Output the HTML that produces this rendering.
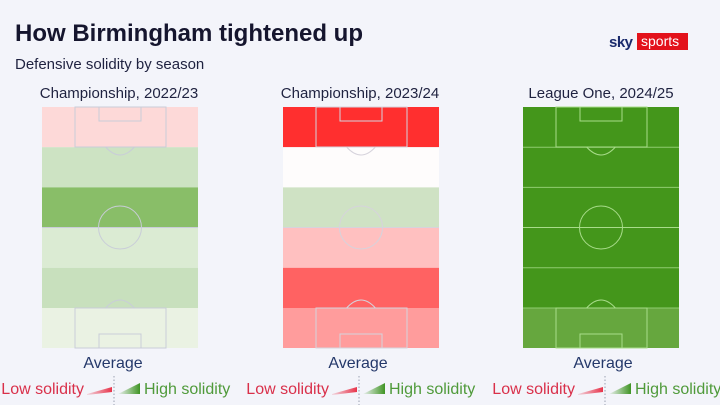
<!DOCTYPE html>
<html><head><meta charset="utf-8"><style>
html,body{margin:0;padding:0;background:#f3f4fa;}
svg{display:block;font-family:"Liberation Sans",sans-serif;}
</style></head><body>
<svg width="720" height="405" viewBox="0 0 720 405" xmlns="http://www.w3.org/2000/svg">
<rect width="720" height="405" fill="#f3f4fa"/>
<text x="15" y="41" font-size="24" font-weight="bold" fill="#15152e">How Birmingham tightened up</text>
<text x="15" y="69" font-size="15" fill="#1f2240">Defensive solidity by season</text>
<text x="609" y="47" font-size="15" font-weight="bold" fill="#1a2a6c" letter-spacing="-0.5">sky</text>
<rect x="637" y="33" width="51" height="17" fill="#e3121b"/>
<text x="641" y="46" font-size="14" fill="#fff">sports</text>

<text x="119" y="98" font-size="15" fill="#1f2240" text-anchor="middle">Championship, 2022/23</text>
<text x="360" y="98" font-size="15" fill="#1f2240" text-anchor="middle">Championship, 2023/24</text>
<text x="601" y="98" font-size="15" fill="#1f2240" text-anchor="middle">League One, 2024/25</text>

<defs>
<g id="lines" fill="none" stroke-width="1">
<rect x="33" y="0" width="91" height="40"/>
<rect x="57" y="0" width="42" height="14"/>
<path d="M63.6 40 Q78 56 92.4 40"/>
<line x1="0" y1="120.5" x2="156" y2="120.5"/>
<circle cx="78" cy="120.5" r="21.5"/>
<rect x="33" y="201" width="91" height="40"/>
<rect x="57" y="227" width="42" height="14"/>
<path d="M63.6 201 Q78 185 92.4 201"/>
</g>
</defs>

<g transform="translate(42,107)">
<rect y="0" width="156" height="40.2" fill="#fdd9d8"/>
<rect y="40.2" width="156" height="40.2" fill="#cde3c3"/>
<rect y="80.4" width="156" height="40.2" fill="#89be68"/>
<rect y="120.6" width="156" height="40.2" fill="#dbebd3"/>
<rect y="160.8" width="156" height="40.2" fill="#c8e0bd"/>
<rect y="201" width="156" height="40" fill="#eaf2e3"/>
<use href="#lines" stroke="#c9cdd8"/>
</g>
<g transform="translate(283,107)">
<rect y="0" width="156" height="40.2" fill="#ff2f2f"/>
<rect y="40.2" width="156" height="40.2" fill="#fefcfc"/>
<rect y="80.4" width="156" height="40.2" fill="#cfe2c4"/>
<rect y="120.6" width="156" height="40.2" fill="#ffc0c0"/>
<rect y="160.8" width="156" height="40.2" fill="#ff6262"/>
<rect y="201" width="156" height="40" fill="#ff9c9c"/>
<use href="#lines" stroke="#d6d3dc"/>
</g>
<g transform="translate(523,107)">
<rect y="0" width="156" height="201" fill="#44961b"/>
<rect y="201" width="156" height="40" fill="#66a73e"/>
<g stroke="#8fcc70" stroke-width="1"><line x1="0" y1="40.2" x2="156" y2="40.2"/><line x1="0" y1="80.4" x2="156" y2="80.4"/><line x1="0" y1="160.8" x2="156" y2="160.8"/><line x1="0" y1="201" x2="156" y2="201"/></g>
<use href="#lines" stroke="#a8dc8a"/>
</g>

<defs>
<linearGradient id="rg" x1="0" x2="1"><stop offset="0" stop-color="#e8334a" stop-opacity="0.15"/><stop offset="1" stop-color="#e8334a"/></linearGradient>
<linearGradient id="gg" x1="0" x2="1"><stop offset="0" stop-color="#4a9c2e" stop-opacity="0.05"/><stop offset="1" stop-color="#3f9424"/></linearGradient>
<g id="leg">
<text x="-29" y="394" font-size="16" fill="#d9304a" text-anchor="end">Low solidity</text>
<polygon points="-26,394 -1,387 -1,392 -26,395" fill="url(#rg)"/>
<line x1="1" y1="376" x2="1" y2="405" stroke="#9aa0b0" stroke-dasharray="1.5,2"/>
<polygon points="5,394 27,383 27,394" fill="url(#gg)"/>
<text x="31" y="394" font-size="16" fill="#4f9a3a">High solidity</text>
</g>
</defs>
<text x="113" y="368" font-size="16" fill="#24386a" text-anchor="middle">Average</text>
<text x="358" y="368" font-size="16" fill="#24386a" text-anchor="middle">Average</text>
<text x="603" y="368" font-size="16" fill="#24386a" text-anchor="middle">Average</text>
<g transform="translate(113,0)"><use href="#leg"/></g>
<g transform="translate(358,0)"><use href="#leg"/></g>
<g transform="translate(604,0)"><use href="#leg"/></g>
</svg>
</body></html>
